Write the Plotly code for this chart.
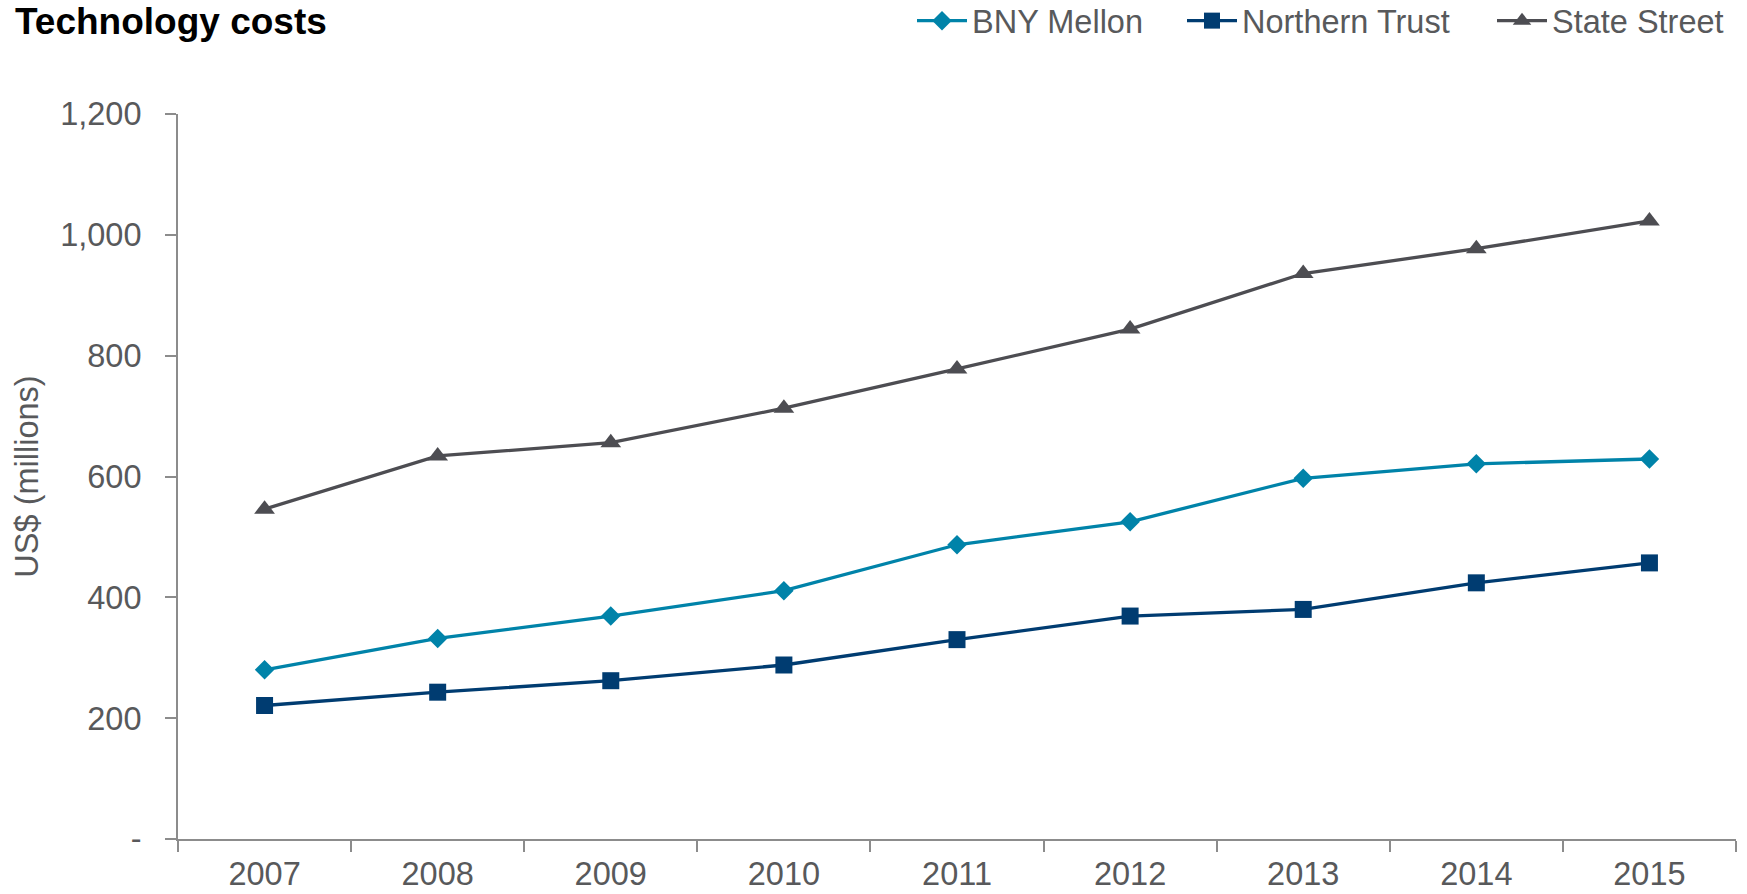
import plotly.graph_objects as go

years = ["2007", "2008", "2009", "2010", "2011", "2012", "2013", "2014", "2015"]
bny_mellon = [280, 332, 369, 411, 487, 525, 597, 621, 629]
northern_trust = [221, 243, 262, 288, 330, 369, 380, 424, 457]
state_street = [546, 634, 656, 713, 778, 844, 936, 977, 1023]

y_tickvals = [0, 200, 400, 600, 800, 1000, 1200]
y_ticktext = ["-", "200", "400", "600", "800", "1,000", "1,200"]

TXT = "#58595B"
AX = "#8C8C8C"
FONT = "Liberation Sans, Arial, sans-serif"
FS = 32.5
W, H = 1747, 894

fig = go.Figure()
fig.add_trace(go.Scatter(x=years, y=bny_mellon, name="BNY Mellon", mode="lines+markers",
                         line=dict(color="#0083A9", width=3.3), legend="legend",
                         marker=dict(symbol="diamond", size=15, color="#0083A9")))
fig.add_trace(go.Scatter(x=years, y=northern_trust, name="Northern Trust", mode="lines+markers",
                         line=dict(color="#003C71", width=3.3), legend="legend2",
                         marker=dict(symbol="square", size=17, color="#003C71")))
fig.add_trace(go.Scatter(x=years, y=state_street, name="State Street", mode="lines+markers",
                         line=dict(color="#4D4D52", width=3.3), legend="legend3",
                         marker=dict(symbol="triangle-up", size=18, color="#4D4D52")))

def leg(x_px):
    return dict(orientation="h", x=x_px / W, xanchor="left", xref="container",
                y=1 - 21 / H, yanchor="middle", yref="container",
                font=dict(size=FS, color=TXT), itemwidth=50,
                bgcolor="rgba(0,0,0,0)")

fig.update_layout(
    width=W, height=H,
    paper_bgcolor="white", plot_bgcolor="white",
    margin=dict(l=178, r=11, t=114, b=55),
    font=dict(family=FONT, size=FS, color=TXT),
    title=dict(text="<b>Technology costs</b>", font=dict(family=FONT, size=37, color="black"),
               x=15 / W, xanchor="left", xref="container",
               y=1 - 21 / H, yanchor="middle", yref="container"),
    legend=leg(912), legend2=leg(1182), legend3=leg(1492),
    showlegend=True,
    xaxis=dict(type="category", range=[-0.5, 8.5], showgrid=False, zeroline=False,
               showline=True, linecolor=AX, linewidth=2, automargin=False,
               ticks="outside", tickson="boundaries", ticklen=11, tickcolor=AX, tickwidth=1.5,
               tickfont=dict(size=FS, color=TXT), ticklabelstandoff=5),
    yaxis=dict(range=[0, 1200], showgrid=False, zeroline=False,
               showline=True, linecolor=AX, linewidth=2, automargin=False,
               ticks="outside", ticklen=11, tickcolor=AX, tickwidth=1.5,
               tickvals=y_tickvals, ticktext=y_ticktext,
               tickfont=dict(size=FS, color=TXT), ticklabelstandoff=17,
               title=dict(text="US$ (millions)", font=dict(size=FS, color=TXT), standoff=12)),
)

fig.write_html("out.html", config={"displayModeBar": False},
               post_script="document.body.style.margin='0';")
